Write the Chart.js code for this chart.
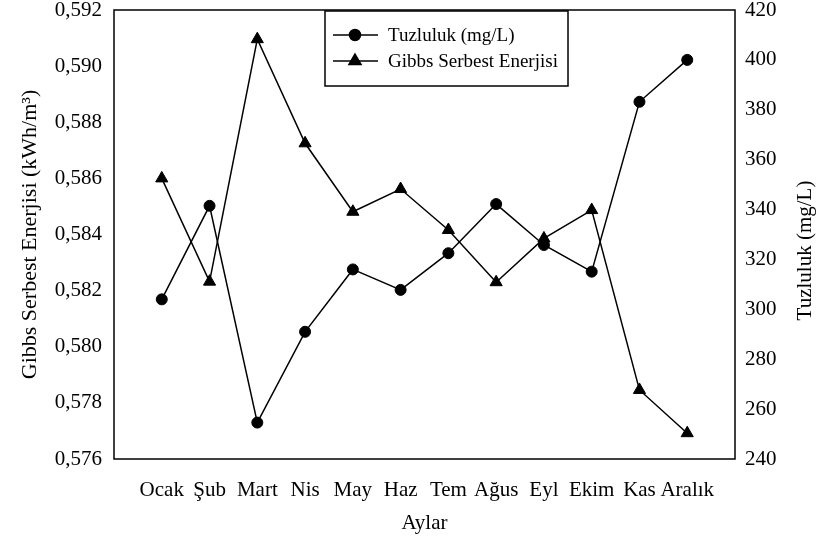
<!DOCTYPE html>
<html>
<head>
<meta charset="utf-8">
<script src="https://cdn.jsdelivr.net/npm/chart.js@4.4.0/dist/chart.umd.min.js"></script>
<style>
  html, body { margin: 0; padding: 0; background: #fff; }
</style>
</head>
<body>
<canvas id="myChart" width="819" height="536"></canvas>
<script>
// Veri
var aylar = ['Ocak', 'Şub', 'Mart', 'Nis', 'May', 'Haz', 'Tem', 'Ağus', 'Eyl', 'Ekim', 'Kas', 'Aralık'];
var tuzluluk = [304, 341.5, 254.6, 291, 316, 307.8, 322.5, 342.2, 325.8, 315.1, 383.2, 400];
var gibbs = [0.5860, 0.58232, 0.59096, 0.58725, 0.58481, 0.58562, 0.58416, 0.58230, 0.58386, 0.58487, 0.57846, 0.57692];
var gibbsTicks = [0.576, 0.578, 0.580, 0.582, 0.584, 0.586, 0.588, 0.590, 0.592];
var tuzTicks = [240, 260, 280, 300, 320, 340, 360, 380, 400, 420];

var serif = 'Liberation Serif';

// bos kenar etiketleri -> noktalar kenardan bir aralik iceride
var labels = [''].concat(aylar, ['']);
function pad(arr) { return [null].concat(arr, [null]); }

var framePlugin = {
  id: 'frame',
  beforeDatasetsDraw: function(chart) {
    var a = chart.chartArea, ctx = chart.ctx;
    ctx.save();
    ctx.strokeStyle = '#000';
    ctx.lineWidth = 1.5;
    ctx.strokeRect(a.left, a.top, a.right - a.left, a.bottom - a.top);
    ctx.restore();
  },
  afterDraw: function(chart) {
    var ctx = chart.ctx, a = chart.chartArea;
    ctx.save();
    // sag eksen basligi
    ctx.fillStyle = '#000';
    ctx.font = '21px "' + serif + '"';
    ctx.textAlign = 'center';
    ctx.textBaseline = 'middle';
    ctx.translate(805, (a.top + a.bottom) / 2 + 16);
    ctx.rotate(-Math.PI / 2);
    ctx.fillText('Tuzluluk (mg/L)', 0, 0);
    ctx.restore();

    // lejant
    ctx.save();
    ctx.strokeStyle = '#000';
    ctx.lineWidth = 1.5;
    ctx.fillStyle = '#fff';
    ctx.fillRect(325, 11, 243, 75);
    ctx.strokeRect(325, 11, 243, 75);
    var rows = [35, 61];
    chart.data.datasets.forEach(function(ds, i) {
      var y = rows[i];
      ctx.beginPath();
      ctx.lineWidth = 1.5;
      ctx.moveTo(333, y);
      ctx.lineTo(378, y);
      ctx.stroke();
      ctx.fillStyle = '#000';
      Chart.helpers.drawPoint(ctx, {pointStyle: ds.pointStyle, radius: ds.pointRadius, borderWidth: 1, rotation: 0}, 355, y);
      ctx.fillStyle = '#000';
      ctx.font = '19px "' + serif + '"';
      ctx.textAlign = 'left';
      ctx.textBaseline = 'middle';
      ctx.fillText(ds.label, 388, y + 1);
    });
    ctx.restore();
  }
};

var ctx = document.getElementById('myChart').getContext('2d');
var myChart = new Chart(ctx, {
  type: 'line',
  data: {
    labels: labels,
    datasets: [{
      label: 'Tuzluluk (mg/L)',
      data: pad(tuzluluk),
      yAxisID: 'y1',
      borderColor: '#000',
      backgroundColor: '#000',
      borderWidth: 1.5,
      pointStyle: 'circle',
      pointRadius: 5.5,
      pointBorderWidth: 1,
      tension: 0
    }, {
      label: 'Gibbs Serbest Enerjisi',
      data: pad(gibbs),
      yAxisID: 'y',
      borderColor: '#000',
      backgroundColor: '#000',
      borderWidth: 1.5,
      pointStyle: 'triangle',
      pointRadius: 7,
      pointBorderWidth: 1,
      tension: 0
    }]
  },
  options: {
    responsive: false,
    animation: false,
    layout: { padding: { top: 10, left: 0, right: 0, bottom: 0 } },
    plugins: {
      legend: { display: false },
      tooltip: { enabled: false }
    },
    scales: {
      x: {
        type: 'category',
        offset: false,
        grid: { display: false, drawTicks: false },
        border: { display: false },
        ticks: {
          color: '#000',
          font: { family: serif, size: 21 },
          padding: 19,
          autoSkip: false,
          maxRotation: 0
        },
        title: {
          display: true,
          text: 'Aylar',
          color: '#000',
          font: { family: serif, size: 21 },
          padding: { top: 2, bottom: 0 }
        },
        afterFit: function(s) { s.height = 77; s.paddingLeft = 0; s.paddingRight = 0; }
      },
      y: {
        position: 'left',
        min: 0.576,
        max: 0.592,
        grid: { display: false, drawTicks: false },
        border: { display: false },
        ticks: {
          color: '#000',
          font: { family: serif, size: 21 },
          padding: 12,
          callback: function(v) { return v.toFixed(3).replace('.', ','); }
        },
        afterBuildTicks: function(s) { s.ticks = gibbsTicks.map(function(v) { return {value: v}; }); },
        title: {
          display: true,
          text: 'Gibbs Serbest Enerjisi (kWh/m³)',
          color: '#000',
          font: { family: serif, size: 22 },
          padding: { top: 17, bottom: 0 }
        },
        afterFit: function(s) { s.width = 114; s.paddingTop = 0; s.paddingBottom = 0; }
      },
      y1: {
        position: 'right',
        min: 240,
        max: 420,
        grid: { display: false, drawTicks: false },
        border: { display: false },
        ticks: {
          color: '#000',
          font: { family: serif, size: 21 },
          padding: 10
        },
        afterBuildTicks: function(s) { s.ticks = tuzTicks.map(function(v) { return {value: v}; }); },
        afterFit: function(s) { s.width = 84; s.paddingTop = 0; s.paddingBottom = 0; }
      }
    }
  },
  plugins: [framePlugin]
});
</script>
</body>
</html>
